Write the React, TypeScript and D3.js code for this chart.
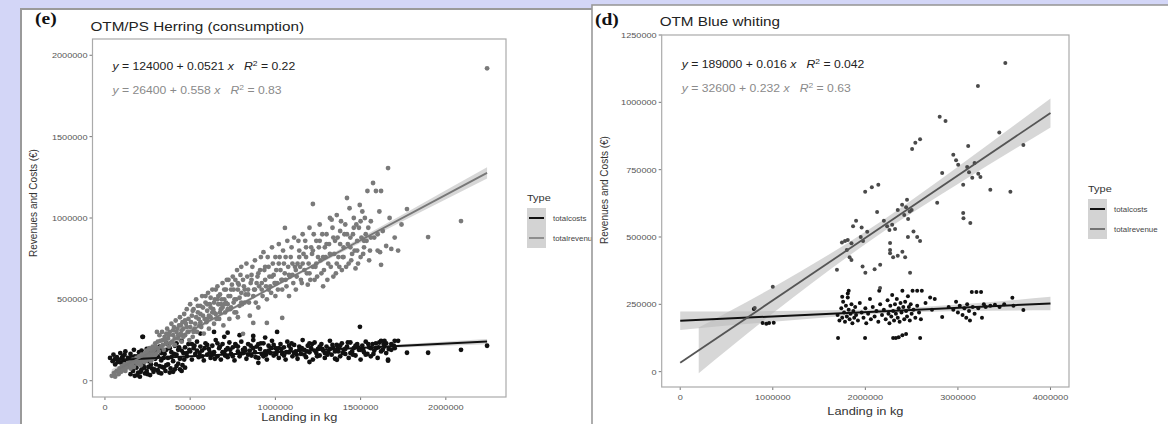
import React from 'react';
import * as d3 from 'd3';

const W = 1168;
const H = 424;
const SX = 1.22; // the source image is stretched horizontally

// values in thousands: [landing kg, €]
const herringRevenue: [number, number][] = [
  [40,30],[55,45],[60,25],[70,60],[80,40],[85,75],[95,55],[100,90],[110,70],[115,100],[120,60],[130,85],[135,110],[140,95],[150,75],[150,120],
  [160,100],[165,130],[170,85],[180,115],[185,140],[190,105],[200,150],[205,125],[210,95],[215,160],[220,135],[230,115],[235,170],[240,145],[245,185],[250,130],[255,160],[260,200],[265,150],[270,120],[275,175],[280,210],[285,140],[290,190],[295,230],[300,165],[305,300],
  [310,240],[315,180],[320,280],[330,210],[335,300],[340,250],[345,190],[350,270],[360,230],[365,320],[370,260],[375,210],[380,300],[390,350],[395,240],[400,280],[405,330],[410,220],[415,370],[420,300],[430,260],[435,340],[440,390],[445,290],[450,240],[455,360],[460,320],[465,410],[470,280],[475,350],[480,440],[485,300],[490,380],[495,250],[500,330],[500,470],
  [510,400],[515,270],[520,440],[530,350],[535,500],[540,300],[545,420],[550,380],[560,460],[565,330],[570,520],[575,400],[580,290],[590,480],[595,360],[600,430],[605,540],[610,320],[615,470],[620,390],[630,560],[635,440],[640,350],[645,500],[650,410],[660,580],[665,470],[670,380],[675,530],[680,440],[690,600],[695,340],[700,500],[705,420],[710,560],[720,470],[725,620],[730,380],[735,520],[740,450],[750,640],[755,560],[760,420],[770,500],[775,680],[780,390],[785,590],[790,460],[800,540],[800,700],
  [810,620],[820,480],[830,720],[840,560],[850,400],[860,650],[870,520],[880,740],[890,600],[900,450],[910,680],[920,560],[930,790],[940,620],[950,500],[960,700],[970,580],[980,820],[990,650],[1000,520],[1000,760],[1010,600],[1020,840],[1030,680],[1040,560],[1050,720],[1060,620],[1070,860],[1080,520],[1090,760],[1100,650],
  [870,355],[950,355],[1040,386],[1056,939],[810,288],
  [1110,880],[1120,560],[1130,720],[1140,800],[1150,620],[1160,900],[1170,680],[1180,760],[1190,590],[1200,940],[1210,820],[1220,1086],[1220,700],[1230,620],[1240,860],[1250,760],[1260,960],[1270,660],[1280,580],[1290,820],[1300,900],[1310,720],[1320,1000],[1330,990],[1340,640],[1350,860],[1360,1018],[1370,760],[1380,920],[1390,680],[1400,820],[1410,960],[1420,1123],[1430,720],[1440,880],[1450,780],[1460,1000],[1470,690],[1480,860],[1490,940],[1500,760],
  [1510,1040],[1520,820],[1530,900],[1540,1166],[1550,740],[1560,980],[1573,1215],[1580,880],[1590,1166],[1600,800],[1610,1040],[1614,790],[1620,1166],[1630,920],[1650,828],[1661,1307],[1670,1000],[1680,810],[1700,880],[1720,800],[1740,960],[1772,1055],[1620,712],
  [1896,883],[2089,981],[2242,1920],
  [105,65],[125,80],[145,105],[155,90],[175,120],[195,130],[205,110],[225,150],[240,120],[250,175],[260,140],[270,190],[280,160],[290,150],[300,210],[310,200],[325,245],[340,220],[355,250],[360,290],[375,280],[385,230],[400,310],[410,260],[425,320],[430,280],[445,340],[450,310],[460,270],[470,370],[480,330],[490,300],
  [505,360],[515,430],[525,320],[535,390],[545,460],[555,340],[560,410],[575,450],[585,380],[590,520],[600,470],[610,400],[620,510],[630,420],[640,480],[650,560],[655,380],[665,520],[675,420],[685,500],[690,450],[700,560],[710,480],[715,620],[725,520],[735,440],[745,590],[755,480],[765,620],[770,420],[780,560],[790,510],[795,650],
  [805,470],[815,580],[825,530],[835,640],[845,480],[855,600],[865,700],[875,560],[885,480],[895,640],[905,580],[915,760],[925,520],[935,680],[945,580],[955,760],[965,640],[975,540],[985,720],[995,600],[1005,680],[1015,560],[1025,760],[1035,620],[1045,800],[1055,660],[1065,580],[1075,700],[1085,640],[1095,820],
  [1105,600],[1115,700],[1125,640],[1135,860],[1145,700],[1155,600],[1165,780],[1175,860],[1185,660],[1195,720],[1205,620],[1215,780],[1225,900],[1235,700],[1245,640],[1255,820],[1265,740],[1275,900],[1285,680],[1295,760],[1305,620],[1315,840],[1325,700],[1335,940],[1345,780],[1355,660],[1365,880],[1375,700],[1385,980],[1395,760],
  [1405,900],[1415,700],[1425,840],[1435,1060],[1445,740],[1455,900],[1465,800],[1475,960],[1485,720],[1495,1080],[1505,880],[1515,780],[1525,1000],[1535,860],[1545,940],[1555,800],
  [520,300],[560,360],[600,380],[640,420],[680,470],[720,440],[760,500],[800,480],[840,530],[880,560],[920,600],[960,560],[1000,600],[1040,620],[1080,650],[1120,680],[1160,720],[1200,660],[1240,720],[1280,760],[1320,780],[1360,720],[1400,760],[1440,820],[1480,800],[1520,860],[1560,880],[1600,900],
  [620,450],[660,500],[700,470],[740,560],[780,600],[820,560],[860,620],[900,660],[940,700],[980,640],[1020,720],[1060,760],[1100,720],[1140,760],[1180,820],[1220,800],[1260,860],[1300,840],[1340,880],[1380,840],[1420,900],[1460,940],[1500,980],
];

const herringCosts: [number, number][] = [
  [30,140],[45,120],[50,160],[60,100],[70,145],[80,130],[90,170],[95,110],[105,150],[110,125],[120,180],[125,95],[135,140],[145,115],[150,165],[160,130],[170,190],[180,105],[190,150],[200,175],[210,125],[220,270],[225,160],[235,140],[245,195],[255,120],[265,170],[275,150],[285,200],[295,135],
  [150,40],[165,60],[175,30],[185,80],[195,50],[205,25],[215,70],[225,95],[235,45],[245,60],[255,85],[265,35],[275,75],[285,55],[300,100],[310,65],[320,90],[330,45],[345,80],[355,60],[370,100],[385,75],[400,55],[420,90],[440,70],[455,95],[470,80],
  [300,180],[310,150],[320,210],[330,125],[340,190],[350,165],[360,230],[370,140],[380,200],[390,175],[400,120],[410,215],[420,160],[430,190],[440,135],[450,245],[460,170],[470,205],[480,150],[490,225],[500,180],[510,130],[520,200],[530,165],[540,240],[550,145],[560,210],[570,185],[580,125],[590,230],[600,160],[610,195],[620,140],[630,215],[640,175],[650,250],[660,150],[670,200],[680,130],[690,225],[700,170],[710,190],[720,145],[730,235],[740,165],[750,205],[760,125],[770,215],[780,180],[790,150],[800,240],
  [810,170],[820,200],[830,135],[840,225],[850,185],[860,155],[870,250],[880,175],[890,210],[900,140],[910,195],[920,165],[930,230],[940,180],[950,130],[960,215],[970,170],[980,245],[990,155],[1000,200],[1010,180],[1020,140],[1030,225],[1040,165],[1050,205],[1060,130],[1070,240],[1080,175],[1090,195],[1100,150],
  [1110,220],[1120,180],[1130,135],[1140,210],[1150,165],[1160,250],[1170,190],[1180,145],[1190,215],[1200,175],[1210,200],[1220,130],[1230,235],[1240,170],[1250,195],[1260,155],[1270,225],[1280,185],[1290,140],[1300,210],[1310,175],[1320,245],[1330,160],[1340,200],[1350,135],[1360,220],[1370,180],[1380,150],[1390,230],[1400,190],
  [1410,165],[1420,210],[1430,140],[1440,235],[1450,180],[1460,200],[1470,155],[1480,225],[1490,190],[1500,130],[1510,215],[1520,175],[1530,240],[1540,165],[1550,205],[1560,150],[1570,225],[1580,185],[1590,200],[1600,140],[1610,235],[1620,245],[1630,190],[1640,210],[1650,170],[1661,123],[1680,225],[1700,200],[1720,245],
  [223,270],[560,290],[640,300],[720,295],[790,280],[870,275],[1010,300],[1496,331],[700,270],[940,265],
  [1361,129],[1661,129],[1200,115],[900,110],
  [1772,172],[1896,172],[2089,190],[2242,215],[1640,245],[1700,245],
  [315,195],[345,140],[375,220],[405,165],[435,205],[465,130],[495,190],[525,215],[555,170],[585,200],[615,175],[645,135],[675,210],[705,155],[735,190],[765,225],[795,165],[825,185],[855,215],[885,145],[915,230],[945,160],[975,200],[1005,165],[1035,195],[1065,175],[1095,230],[1125,160],[1155,200],[1185,180],[1215,225],[1245,150],[1275,195],[1305,160],[1335,220],[1365,195],[1395,170],[1425,235],[1455,160],[1485,205],[1515,190],[1545,225],[1575,165],[1605,205],[1635,225],[1665,195],[1695,215],
  [330,170],[360,190],[390,145],[420,230],[450,185],[480,170],[510,225],[540,185],[570,150],[600,220],[630,160],[660,230],[690,175],[720,200],[750,150],[780,210],[810,190],[840,160],[870,200],[900,225],[930,150],[960,185],[990,220],[1020,200],[1050,155],[1080,215],[1110,170],[1140,190],[1170,160],[1200,230],[1230,185],[1260,210],[1290,170],[1320,195],[1350,180],[1380,215],[1410,195],[1440,170],[1470,215],[1500,190],[1530,160],[1560,200],[1590,230],[1620,180],[1650,230],[1680,190],
  [60,135],[75,115],[100,140],[115,160],[130,120],[155,145],[175,150],[195,115],[215,185],[240,165],[260,130],[280,180],
  [160,75],[190,35],[210,55],[230,80],[250,40],[270,100],[290,70],[315,50],[335,85],[360,95],[380,50],[410,70],[430,105],[450,60],
];

const whitingRevenue: [number, number][] = [
  [805,236],[1000,315],[1693,378],[1747,480],[1780,485],[1810,489],[1850,477],[1975,485],[1800,452],[1830,425],[1850,415],
  [1867,540],[1900,560],[1960,535],[2020,519],[1998,668],[2070,685],[2140,694],[2127,593],[1970,390],[2000,367],[2100,380],[2160,397],[2159,311],
  [2235,540],[2260,526],[2290,545],[2321,530],[2267,478],[2267,452],[2267,440],[2300,425],[2350,430],[2400,445],[2430,425],
  [2397,620],[2450,638],[2500,600],[2420,582],[2480,595],[2462,567],[2520,520],[2560,500],[2591,485],[2460,500],[2483,367],
  [2505,827],[2540,850],[2591,863],[2803,946],[2866,931],[2776,627],[2830,738],[2950,805],[2980,785],[3003,768],
  [3057,694],[3100,760],[3155,720],[3120,740],[3180,775],[3220,735],[3243,723],[3111,838],[3134,552],[3057,589],[3060,570],
  [3216,1061],[3350,675],[3447,888],[3512,1146],[3567,668],[3707,842],
  [1950,500],[2200,560],[2350,600],[2440,610],
];

const whitingCosts: [number, number][] = [
  [795,233],[890,181],[930,178],[960,181],[1010,182],
  [1705,125],[1997,125],[2300,125],[2330,125],[2360,128],[2400,135],[2440,140],[2592,125],
  [1700,210],[1720,190],[1740,235],[1750,200],[1760,260],[1770,220],[1780,185],[1790,245],[1800,205],[1810,275],[1820,230],[1830,195],[1840,215],[1850,250],[1860,180],[1870,225],[1880,200],[1890,240],[1900,210],[1920,190],[1940,255],[1960,220],[1980,200],[2000,235],[2010,180],[2030,215],[2050,270],[2060,195],[2080,240],[2100,205],[2120,225],[2140,185],[2150,300],[2160,250],[2180,210],
  [2200,230],[2220,195],[2240,265],[2250,215],[2260,180],[2270,245],[2280,205],[2290,285],[2300,225],[2310,190],[2320,250],[2330,215],[2340,270],[2350,200],[2360,235],[2370,185],[2380,255],[2390,220],[2400,300],[2410,240],[2420,195],[2430,260],[2440,225],[2450,205],[2460,280],[2470,240],[2480,190],[2490,250],[2500,215],[2510,300],[2520,230],[2540,200],[2560,245],[2580,220],[2600,195],
  [1750,278],[1810,290],[1820,300],[2560,300],[2610,300],[2700,275],[2750,270],[2650,255],[2720,230],
  [2830,203],[2900,240],[2950,230],[2980,260],[3000,220],[3020,245],[3050,210],[3070,235],[3090,200],[3100,250],[3120,225],[3130,190],[3150,296],[3160,240],[3180,215],[3200,296],[3220,235],[3250,296],[3260,200],[3280,250],[3300,240],[3350,245],[3400,248],[3450,240],[3500,250],[3588,274],[3707,229],[3600,245],
];

// fitted lines: [intercept, slope]
const herringCostFit = [124000, 0.0521];
const herringRevenueFit = [26400, 0.558];
const whitingCostFit = [189000, 0.016];
const whitingRevenueFit = [32600, 0.232];

// confidence band half-widths, [landing kg, €]
const herringCostBand: [number, number][] = [[40000,12000],[1000000,4000],[2242000,16000]];
const herringRevenueBand: [number, number][] = [[40000,22000],[1000000,9000],[2242000,34000]];
const whitingCostBand: [number, number][] = [[0,34000],[1000000,20000],[2200000,8000],[3000000,12000],[4000000,25000]];
const whitingRevenueBand: [number, number][] = [[200000,85000],[1000000,48000],[2200000,22000],[3000000,32000],[4000000,54000]];

const herringXTicks = [0, 500000, 1000000, 1500000, 2000000];
const herringYTicks = [0, 500000, 1000000, 1500000, 2000000];
const whitingXTicks = [0, 1000000, 2000000, 3000000, 4000000];
const whitingYTicks = [0, 250000, 500000, 750000, 1000000, 1250000];

const legendLabels = ['totalcosts', 'totalrevenue'];

const sans = 'Liberation Sans, Arial, sans-serif';

const T = ({ x, y, size, fill = '#222', anchor = 'start', children, family = sans, weight }: any) => (
  <text transform={`translate(${x},${y}) scale(${SX},1)`} fontSize={size} fill={fill}
    textAnchor={anchor} fontFamily={family} fontWeight={weight}>{children}</text>
);

const Eq = ({ x, y, fill, a, b, r2 }: any) => (
  <T x={x} y={y} size={10} fill={fill}>
    <tspan fontStyle="italic">y</tspan> = {a} + {b} <tspan fontStyle="italic">x</tspan>{'\u00a0\u00a0\u00a0'}
    <tspan fontStyle="italic">R</tspan><tspan dy={-4} fontSize={7}>2</tspan><tspan dy={4}> = {r2}</tspan>
  </T>
);

const Panel = ({ p }: any) => {
  const x = d3.scaleLinear().domain(p.xDomain).range([p.left, p.right]);
  const y = d3.scaleLinear().domain(p.yDomain).range([p.bottom, p.top]);
  const line = (fit: number[], x0: number, x1: number) =>
    d3.line<number>().x(v => x(v)).y(v => y(fit[0] + fit[1] * v))([x0, x1]) as string;
  const band = (fit: number[], pts: [number, number][]) =>
    d3.area<[number, number]>()
      .x(d => x(d[0]))
      .y0(d => y(fit[0] + fit[1] * d[0] - d[1]))
      .y1(d => y(fit[0] + fit[1] * d[0] + d[1]))
      .curve(d3.curveMonotoneX)(pts) as string;
  const fmt = d3.format('d');
  return (
    <g>
      {p.yTicks.map((t: number) => (
        <g key={'y' + t}>
          <line x1={p.left - 3} x2={p.left} y1={y(t)} y2={y(t)} stroke="#777" />
          <T x={p.left - 5} y={y(t) + 3} size={7.5} fill="#555" anchor="end">{fmt(t)}</T>
        </g>
      ))}
      {p.xTicks.map((t: number) => (
        <g key={'x' + t}>
          <line x1={x(t)} x2={x(t)} y1={p.bottom} y2={p.bottom + 3} stroke="#777" />
          <T x={x(t)} y={p.bottom + 13} size={7.5} fill="#555" anchor="middle">{fmt(t)}</T>
        </g>
      ))}
      <path d={band(p.costFit, p.costBand)} fill="#bdbdbd" opacity={0.6} />
      <path d={band(p.revFit, p.revBand)} fill="#bdbdbd" opacity={0.6} />
      {p.costs.map((d: [number, number], i: number) => (
        <circle key={'c' + i} cx={x(d[0] * 1000)} cy={y(d[1] * 1000)} r={p.r} fill="#111" />
      ))}
      {p.revenue.map((d: [number, number], i: number) => (
        <circle key={'r' + i} cx={x(d[0] * 1000)} cy={y(d[1] * 1000)} r={p.r} fill={p.revColor} />
      ))}
      <path d={line(p.costFit, p.lineRange[0], p.lineRange[1])} stroke="#111" strokeWidth={2} fill="none" />
      <path d={line(p.revFit, p.lineRange[0], p.lineRange[1])} stroke={p.revLine} strokeWidth={1.8} fill="none" />
      <rect x={p.left} y={p.top} width={p.right - p.left} height={p.bottom - p.top} fill="none" stroke="#aaa" strokeWidth={1.2} />
      <Eq x={p.left + 20} y={p.eqY[0]} fill="#222" a={p.eq[0][0]} b={p.eq[0][1]} r2={p.eq[0][2]} />
      <Eq x={p.left + 20} y={p.eqY[1]} fill="#8a8a8a" a={p.eq[1][0]} b={p.eq[1][1]} r2={p.eq[1][2]} />
      <T x={p.tag[1]} y={p.tag[2]} size={16} weight="bold" family="Liberation Serif, Times New Roman, serif" fill="#111">{p.tag[0]}</T>
      <T x={p.left - 2} y={p.titleY} size={12.5} fill="#222">{p.title}</T>
      <text transform={`translate(${p.yLabel[0]},${p.yLabel[1]}) rotate(-90)`} fontSize={10} fontFamily={sans}
        fill="#333" textAnchor="middle" dy="0.35em">Revenues and Costs (€)</text>
      <T x={(p.left + p.right) / 2} y={p.xLabelY} size={10.5} fill="#333" anchor="middle">Landing in kg</T>
      <T x={p.legend[0]} y={p.legend[1]} size={9} fill="#333">Type</T>
      {legendLabels.map((lab, i) => (
        <g key={lab}>
          <rect x={p.legend[0]} y={p.legend[1] + 7 + i * 20} width={19} height={20} fill="#d3d3d3" />
          <line x1={p.legend[0] + 2} x2={p.legend[0] + 17} y1={p.legend[1] + 17 + i * 20} y2={p.legend[1] + 17 + i * 20}
            stroke={i === 0 ? '#111' : p.revLine} strokeWidth={i === 0 ? 2 : 1.5} />
          <T x={p.legend[0] + 26} y={p.legend[1] + 19.5 + i * 20} size={6.5} fill="#444">{lab}</T>
        </g>
      ))}
    </g>
  );
};

const herringPanel = {
  left: 92.5, right: 506, top: 39, bottom: 397,
  xDomain: [-73000, 2353000], yDomain: [-100000, 2100000],
  xTicks: herringXTicks, yTicks: herringYTicks,
  costs: herringCosts, revenue: herringRevenue, r: 2.4, revColor: '#7a7a7a', revLine: '#777',
  costFit: herringCostFit, revFit: herringRevenueFit, costBand: herringCostBand, revBand: herringRevenueBand,
  lineRange: [40000, 2242000],
  eq: [['124000', '0.0521', '0.22'], ['26400', '0.558', '0.83']], eqY: [70, 94],
  tag: ['(e)', 35, 24], title: 'OTM/PS Herring (consumption)', titleY: 31,
  yLabel: [33, 203], xLabelY: 421, legend: [527, 201],
};

const whitingPanel = {
  left: 661.7, right: 1069, top: 35, bottom: 387,
  xDomain: [-200000, 4200000], yDomain: [-57000, 1250000],
  xTicks: whitingXTicks, yTicks: whitingYTicks,
  costs: whitingCosts, revenue: whitingRevenue, r: 2.0, revColor: '#4a4a4a', revLine: '#555',
  costFit: whitingCostFit, revFit: whitingRevenueFit, costBand: whitingCostBand, revBand: whitingRevenueBand,
  lineRange: [0, 4000000],
  eq: [['189000', '0.016', '0.042'], ['32600', '0.232', '0.63']], eqY: [68, 92],
  tag: ['(d)', 595, 25], title: 'OTM Blue whiting', titleY: 25.5,
  yLabel: [604, 190], xLabelY: 415, legend: [1088, 192],
};

export default function App() {
  return (
    <svg width={W} height={H} style={{ position: 'absolute', left: 0, top: 0 }}>
      <rect width={W} height={H} fill="#d3d6f7" />
      <rect x={21} y={9} width={640} height={440} fill="#fff" stroke="#9a9a9a" strokeWidth={2} />
      <Panel p={herringPanel} />
      <rect x={592} y={5} width={600} height={440} fill="#fff" stroke="#9a9a9a" strokeWidth={1.6} />
      <Panel p={whitingPanel} />
    </svg>
  );
}
